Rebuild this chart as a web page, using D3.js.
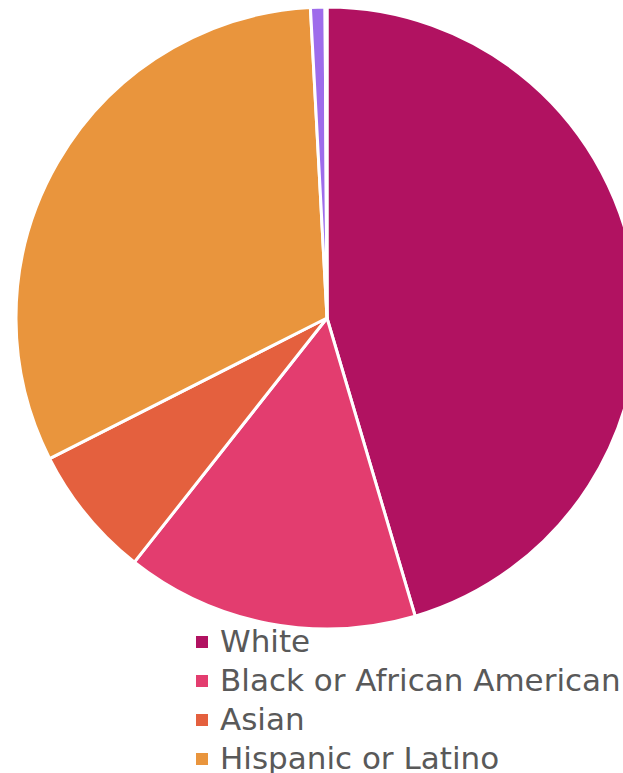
<!DOCTYPE html>
<html>
<head>
<meta charset="utf-8">
<script src="https://d3js.org/d3.v7.min.js"></script>
<style>
  html, body { margin: 0; padding: 0; background: #fff; overflow: hidden; }
  .legend text { font-family: "DejaVu Sans", sans-serif; fill: #595959; }
</style>
</head>
<body>
<script>
// slice data (share of total, percent)
var categories = ["White", "Black or African American", "Asian", "Hispanic or Latino", "Two or More Races", "Other"];
var values = [45.4, 15.2, 6.9, 31.6, 0.75, 0.1];
var colors = ["#B11261", "#E33D6F", "#E4603E", "#E9953D", "#9E6CEB", "#F2C14E"];
var legendItems = ["White", "Black or African American", "Asian", "Hispanic or Latino"];

var width = 623, height = 773;
var cx = 327, cy = 318, radius = 311;

var svg = d3.select("body").append("svg")
    .attr("width", width)
    .attr("height", height);

var data = categories.map(function(c, i) { return {name: c, value: values[i], color: colors[i]}; });

var pie = d3.pie()
    .sort(null)
    .value(function(d) { return d.value; });

var arc = d3.arc()
    .innerRadius(0)
    .outerRadius(radius);

var g = svg.append("g")
    .attr("transform", "translate(" + cx + "," + cy + ")");

g.selectAll("path")
  .data(pie(data))
  .enter()
  .append("path")
    .attr("d", arc)
    .attr("fill", function(d) { return d.data.color; })
    .attr("stroke", "#fff")
    .attr("stroke-width", 3)
    .attr("stroke-linejoin", "round");

// legend
var legendY = d3.scalePoint()
    .domain(legendItems)
    .range([642, 759]);

var legend = svg.append("g").attr("class", "legend");

var item = legend.selectAll("g")
  .data(legendItems)
  .enter()
  .append("g")
    .attr("transform", function(d) { return "translate(196," + legendY(d) + ")"; });

item.append("rect")
    .attr("x", 0)
    .attr("y", -6)
    .attr("width", 12)
    .attr("height", 12)
    .attr("fill", function(d) { return colors[categories.indexOf(d)]; });

item.append("text")
    .attr("x", 24)
    .attr("y", 10)
    .style("font-size", "31px")
    .text(function(d) { return d; });
</script>
</body>
</html>
